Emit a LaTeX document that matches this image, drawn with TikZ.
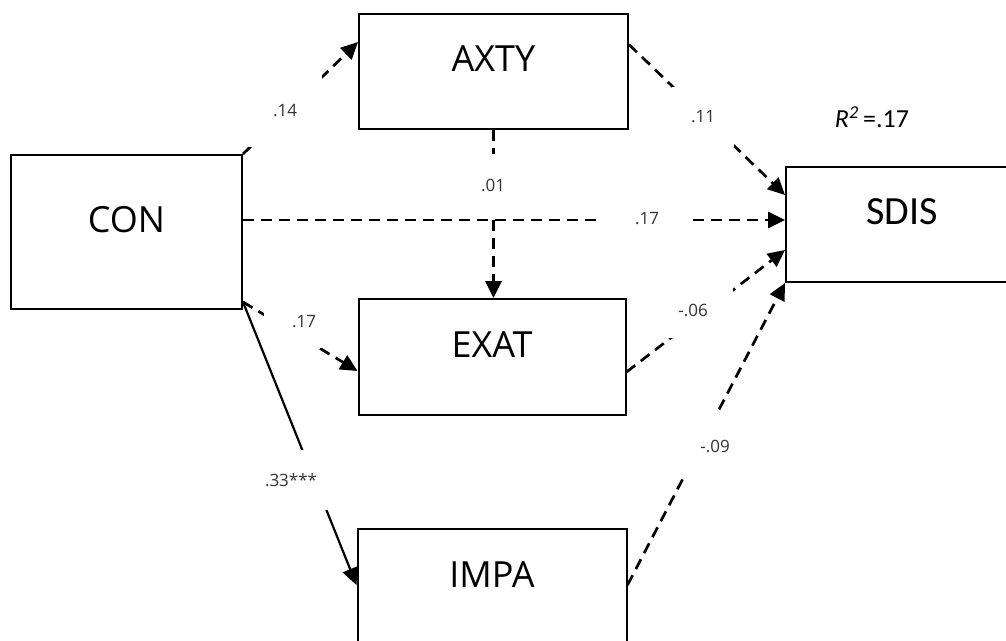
\documentclass[tikz,border=0pt]{standalone}
\usepackage{fontspec}
\setmainfont{Open Sans}
\newfontfamily\calib{Carlito}
\usetikzlibrary{arrows.meta}
\begin{document}
\begin{tikzpicture}[x=1pt,y=-1pt,
  box/.style={draw, line width=2pt, fill=white, inner sep=0pt,
    font=\fontsize{36}{36}\selectfont, text height=25pt, text depth=25pt},
  tipstyle/.style={-{Triangle[length=17pt,width=16pt]}},
  dlink/.style={tipstyle, line width=2.7pt, dash pattern=on 11pt off 7pt},
  slink/.style={tipstyle, line width=2.2pt},
  lbl/.style={fill=white, inner sep=0pt, text=black!80,
    font=\fontsize{17}{17}\selectfont}
]
\useasboundingbox (0,0) rectangle (1006,640);
\fill[white] (0,0) rectangle (1006,640);
\clip (0,0) rectangle (1006,640);

% variables
\node[box, minimum width=231pt, minimum height=154pt] (con)  at (126.5,232) {CON};
\node[box, minimum width=269pt, minimum height=115pt] (axty) at (493.5,71.5) {AXTY};
\node[box, minimum width=267pt, minimum height=116pt] (exat) at (492,357) {EXAT};
\node[box, minimum width=269pt, minimum height=116pt] (impa) at (492,587) {IMPA};
\node[box, minimum width=232pt, minimum height=115pt,
      font=\calib\fontsize{40}{40}\selectfont] (sdis) at (902,224.5) {SDIS};

% paths
\draw[dlink] (con.north east) -- ([yshift=29.5pt]axty.west);
\draw[dlink] ([yshift=27pt]axty.east) -- ([yshift=29.5pt]sdis.west);
\draw[dlink] (axty.south) -- (axty.south |- exat.north);
\draw[dlink] ([yshift=12pt]con.east) -- ([yshift=12pt]con.east -| sdis.west);
\draw[dlink] ([yshift=8pt]con.south east) -- ([yshift=-14pt]exat.west);
\draw[slink] ([yshift=8pt]con.south east) -- ([yshift=2pt]impa.west);
\draw[dlink] ([yshift=-15pt]exat.east) -- ([yshift=-25.5pt]sdis.west);
\draw[dlink] ([yshift=2pt]impa.east) -- (sdis.south west);

% coefficients
\node[lbl, minimum width=74pt, minimum height=72pt] (b1) at (285,111) {.14};
\node[lbl, minimum width=62pt, minimum height=60pt] (b2) at (703,117) {.11};
\node[lbl, minimum width=50pt, minimum height=62pt] (b3) at (493,185) {.01};
\node[lbl, minimum width=92pt, minimum height=36pt] (b4) at (647,219) {.17};
\node[lbl, minimum width=80pt, minimum height=52pt] (b5) at (304,322) {.17};
\node[lbl, minimum width=80pt, minimum height=56pt] (b6) at (693,310) {-.06};
\node[lbl, minimum width=84pt, minimum height=62pt] (b7) at (715,446) {-.09};
\node[lbl, minimum width=115pt, minimum height=60pt] (b8) at (302.5,480)
  {\makebox[75pt][l]{.33***}};

% explained variance
\node[font=\calib\fontsize{26}{26}\selectfont] (r2) at (872,117)
  {{\itshape R}\textsuperscript{\itshape 2}\,=.17};
\end{tikzpicture}
\end{document}
